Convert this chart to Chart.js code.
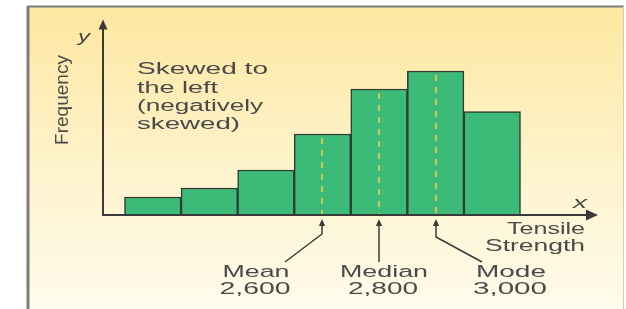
<!DOCTYPE html>
<html>
<head>
<meta charset="utf-8">
<script src="https://cdn.jsdelivr.net/npm/chart.js@4/dist/chart.umd.min.js"></script>
<style>
  html, body { margin: 0; padding: 0; background: #fff; }
  #wrap { width: 626px; height: 309px; position: relative; }
</style>
</head>
<body>
<div id="wrap"><canvas id="myChart" width="626" height="309"></canvas></div>
<script>
// tensile strength at bar centres, and how often each occurs
var strength = [2000, 2200, 2400, 2600, 2800, 3000, 3200];
var frequency = [2, 3, 5, 9, 14, 16, 11.5];

// markers under the axis
var markerNames = ["Mean", "Median", "Mode"];
var markerValues = [2600, 2800, 3000];
var markerLabels = ["2,600", "2,800", "3,000"];

var noteLines = ["Skewed to", "the left", "(negatively", "skewed)"];

var FONT = "'Liberation Sans', Arial, sans-serif";

function arrowHead(ctx, x, y, dir, size) {
    // dir: 'up' or 'right'
    ctx.beginPath();
    if (dir == 'up') {
        ctx.moveTo(x, y);
        ctx.lineTo(x - size * 0.45, y + size);
        ctx.lineTo(x + size * 0.45, y + size);
    } else {
        ctx.moveTo(x, y);
        ctx.lineTo(x - size, y - size * 0.45);
        ctx.lineTo(x - size, y + size * 0.45);
    }
    ctx.closePath();
    ctx.fill();
}

// the source picture is stretched sideways, so text is squeezed/stretched to a width
function wideText(ctx, text, x, y, width, align) {
    var w = ctx.measureText(text).width;
    var sx = width / w;
    ctx.save();
    ctx.textAlign = 'left';
    var left = x;
    if (align == 'center') left = x - width / 2;
    if (align == 'right') left = x - width;
    ctx.translate(left, y);
    ctx.scale(sx, 1);
    ctx.fillText(text, 0, 0);
    ctx.restore();
}

var panel = {
    id: 'panel',
    beforeDraw: function (chart) {
        var ctx = chart.ctx;
        ctx.save();
        ctx.fillStyle = '#ffffff';
        ctx.fillRect(0, 0, 626, 309);
        var g = ctx.createLinearGradient(0, 7, 0, 309);
        g.addColorStop(0, '#fde7a0');
        g.addColorStop(0.5, '#fef2c9');
        g.addColorStop(1, '#fffbec');
        ctx.fillStyle = g;
        ctx.fillRect(27, 6, 597, 303);
        ctx.strokeStyle = '#7d7d7d';
        ctx.lineWidth = 3;
        ctx.beginPath();
        ctx.moveTo(28, 309);
        ctx.lineTo(28, 6.5);
        ctx.stroke();
        ctx.lineWidth = 2;
        ctx.beginPath();
        ctx.moveTo(27, 6.5);
        ctx.lineTo(624, 6.5);
        ctx.stroke();
        ctx.strokeStyle = '#d6cfa8';
        ctx.lineWidth = 1;
        ctx.beginPath();
        ctx.moveTo(623.5, 6);
        ctx.lineTo(623.5, 309);
        ctx.stroke();
        ctx.restore();
    },
    afterDatasetsDraw: function (chart) {
        var ctx = chart.ctx;
        var xs = chart.scales.x;
        var ys = chart.scales.y;
        var area = chart.chartArea;
        var base = ys.getPixelForValue(0);
        ctx.save();

        // dashed lines at mean / median / mode
        ctx.strokeStyle = '#cbc35e';
        ctx.lineWidth = 2;
        ctx.setLineDash([6, 6]);
        for (var i = 0; i < markerValues.length; i++) {
            var px = Math.round(xs.getPixelForValue(markerValues[i]));
            var idx = strength.indexOf(markerValues[i]);
            var top = ys.getPixelForValue(frequency[idx]) + 4;
            ctx.beginPath();
            ctx.moveTo(px, top);
            ctx.lineTo(px, base - 1);
            ctx.stroke();
        }
        ctx.setLineDash([]);

        // axes
        ctx.strokeStyle = '#3a3a3a';
        ctx.fillStyle = '#3a3a3a';
        ctx.lineWidth = 2;
        ctx.beginPath();
        ctx.moveTo(area.left, area.top + 6);
        ctx.lineTo(area.left, base);
        ctx.lineTo(area.right - 8, base);
        ctx.stroke();
        arrowHead(ctx, area.left, area.top - 2, 'up', 10);
        arrowHead(ctx, area.right, base, 'right', 12);

        // axis letters
        ctx.fillStyle = '#4a4a4a';
        ctx.textBaseline = 'middle';
        ctx.font = 'italic 17px ' + FONT;
        wideText(ctx, 'y', 84, 37, 12, 'center');
        wideText(ctx, 'x', 580, 203, 14, 'center');

        // y title
        ctx.font = '19px ' + FONT;
        ctx.save();
        ctx.translate(63, 100);
        ctx.rotate(-Math.PI / 2);
        ctx.textAlign = 'center';
        ctx.fillText('Frequency', 0, 0);
        ctx.restore();

        // x title
        ctx.font = '16px ' + FONT;
        wideText(ctx, 'Tensile', 585, 230, 78, 'right');
        wideText(ctx, 'Strength', 585, 247, 100, 'right');

        // note text
        var noteW = [131, 81, 126, 103];
        for (var j = 0; j < noteLines.length; j++) {
            wideText(ctx, noteLines[j], 137, 70 + j * 18.3, noteW[j], 'left');
        }

        // leader arrows
        ctx.strokeStyle = '#3a3a3a';
        ctx.fillStyle = '#3a3a3a';
        ctx.lineWidth = 1.5;
        var textX = [256, 384, 511];
        var nameW = [67, 88, 70];
        var numW = [71, 70, 74];
        for (var k = 0; k < markerValues.length; k++) {
            var mx = Math.round(xs.getPixelForValue(markerValues[k]));
            ctx.beginPath();
            if (k == 0) {
                ctx.moveTo(mx, base + 9);
                ctx.lineTo(mx, base + 19);
                ctx.lineTo(285, base + 47);
            } else if (k == 1) {
                ctx.moveTo(mx, base + 9);
                ctx.lineTo(mx, base + 47);
            } else {
                ctx.moveTo(mx, base + 9);
                ctx.lineTo(mx, base + 22);
                ctx.lineTo(482, base + 47);
            }
            ctx.stroke();
            arrowHead(ctx, mx, base + 4, 'up', 7);

            ctx.fillStyle = '#4a4a4a';
            ctx.font = '16px ' + FONT;
            wideText(ctx, markerNames[k], textX[k], 273, nameW[k], 'center');
            wideText(ctx, markerLabels[k], textX[k] - 1, 290, numW[k], 'center');
            ctx.fillStyle = '#3a3a3a';
        }
        ctx.restore();
    }
};

var ctx = document.getElementById('myChart').getContext("2d");
new Chart(ctx, {
    type: 'bar',
    data: {
        datasets: [{
            label: "Frequency",
            data: strength.map(function (s, i) { return { x: s, y: frequency[i] }; }),
            backgroundColor: "#3cba78",
            borderColor: "#2f3a33",
            borderWidth: 1.5,
            categoryPercentage: 1,
            barPercentage: 1
        }]
    },
    options: {
        responsive: false,
        animation: false,
        events: [],
        layout: { padding: { left: 103, right: 28, top: 21.5, bottom: 94 } },
        plugins: {
            legend: { display: false },
            tooltip: { enabled: false }
        },
        scales: {
            x: {
                type: 'linear',
                display: false,
                offset: false,
                min: 1824,
                max: 3574,
                // ticks only at the bar centres, so bars fill the full class width
                afterBuildTicks: function (scale) {
                    scale.ticks = strength.map(function (v) { return { value: v }; });
                }
            },
            y: {
                display: false,
                min: 0,
                max: 21.5
            }
        }
    },
    plugins: [panel]
});
</script>
</body>
</html>
